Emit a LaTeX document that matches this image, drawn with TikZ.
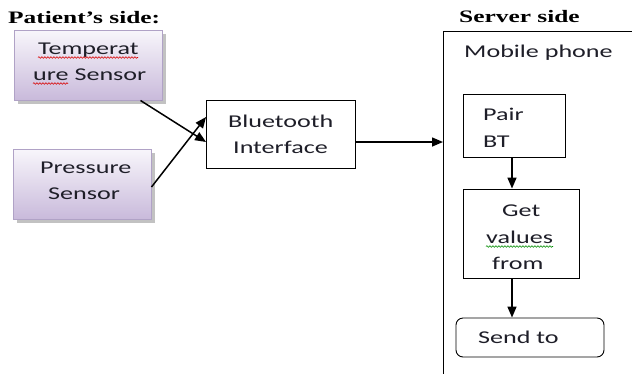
\documentclass[tikz,border=0pt]{standalone}
\usepackage{graphicx}
\usepackage{fontspec}
\setmainfont{Carlito}
\newfontfamily\headfont{Liberation Serif}
\usetikzlibrary{arrows.meta,shadows,decorations.pathmorphing}
\definecolor{txt}{HTML}{1E1E28}
\definecolor{sensTop}{HTML}{F8F6FB}
\definecolor{sensBot}{HTML}{C9BADB}
\definecolor{sensLine}{HTML}{B0A2C6}
\newcommand\wtxt[1]{\scalebox{1.45}[1]{#1}}
\tikzset{
  sensor/.style={draw=sensLine, line width=1pt, top color=sensTop, bottom color=sensBot,
    drop shadow={shadow xshift=3.5pt, shadow yshift=-3.5pt, fill=black!40, opacity=0.6},
    inner sep=0pt},
  plain/.style={draw=black, line width=0.9pt, fill=white, inner sep=0pt},
  lbl/.style={text=txt, font=\fontsize{18}{20}\selectfont, anchor=base west, inner sep=0pt},
  head/.style={font=\headfont\bfseries\fontsize{17.5}{20}\selectfont, text=black, anchor=base west, inner sep=0pt},
  arr/.style={-{Triangle[length=11pt,width=9pt]}, line width=1.5pt, black},
  squig/.style={decorate, decoration={snake, amplitude=0.8pt, segment length=3pt}, line width=0.6pt}
}
\begin{document}
\begin{tikzpicture}[x=1pt,y=-1pt]
\useasboundingbox (0,0) rectangle (632,373);
\clip (0,0) rectangle (632,373);
% headings
\node[head] (phead) at (8,23) {\wtxt{Patient’s side:}};
\node[head] (shead) at (459,22) {\wtxt{Server side}};
% sensors
\node[sensor, minimum width=148pt, minimum height=70pt] (temp) at (88,65) {};
\node[lbl] (t1) at (38,54) {\wtxt{Temperat}};
\node[lbl] (t2) at (33,80) {\wtxt{ure Sensor}};
\draw[squig, red!85!black] (38,57.5) -- (138,57.5);
\draw[squig, red!85!black] (33,83.5) -- (68,83.5);
\node[sensor, minimum width=138pt, minimum height=70pt] (press) at (82,184) {};
\node[lbl] (p1) at (40,173) {\wtxt{Pressure}};
\node[lbl] (p2) at (48,199) {\wtxt{Sensor}};
% bluetooth
\node[plain, minimum width=149pt, minimum height=68pt] (bt) at (281,134) {};
\node[lbl] (b1) at (228,127) {\wtxt{Bluetooth}};
\node[lbl] (b2) at (233,153) {\wtxt{Interface}};
% server container
\node[draw=black, line width=1pt, minimum width=300pt, minimum height=400pt, anchor=north west, inner sep=0pt] (phone) at (443,31) {};
\node[lbl] (mp) at (464,57) {\wtxt{Mobile phone}};
% flow boxes
\node[plain, minimum width=102pt, minimum height=63pt] (pair) at (514,125.5) {};
\node[lbl] (pa1) at (483,120) {\wtxt{Pair}};
\node[lbl] (pa2) at (483,147) {\wtxt{BT}};
\node[plain, minimum width=116pt, minimum height=89pt] (get) at (521,233.5) {};
\node[lbl] (g1) at (502,216) {\wtxt{Get}};
\node[lbl] (g2) at (486,243) {\wtxt{values}};
\node[lbl] (g3) at (492,269) {\wtxt{from}};
\draw[squig, green!55!black] (486,246.5) -- (553,246.5);
\node[plain, rounded corners=7pt, minimum width=148pt, minimum height=39pt] (send) at (530,337.5) {};
\node[lbl] (sendt) at (478,343) {\wtxt{Send to}};
% connectors
\draw[arr] ([xshift=-22pt]temp.south east) -- ([yshift=-8pt]bt.west);
\draw[arr] ([yshift=-3pt]press.east) -- ([yshift=17pt]bt.west);
\draw[arr] ([yshift=-8pt]bt.east) -- ([yshift=-8pt]bt.east -| phone.west);
\draw[arr] (pair.south -| 512,0) -- (get.north -| 512,0);
\draw[arr] (get.south -| 512,0) -- (send.north -| 512,0);
\end{tikzpicture}
\end{document}
